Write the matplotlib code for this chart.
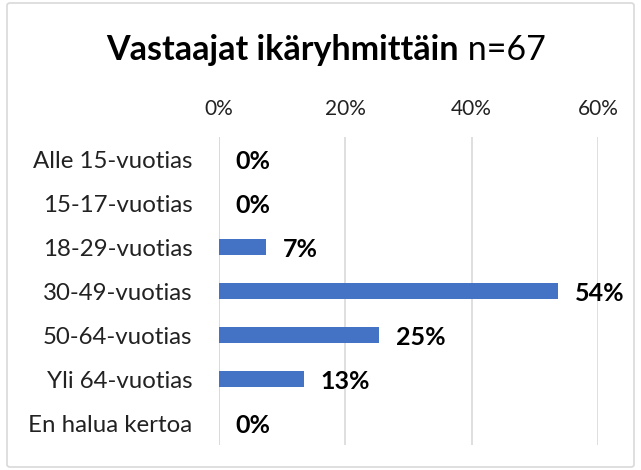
import matplotlib
matplotlib.use("Agg")
import matplotlib.pyplot as plt
from matplotlib.patches import FancyBboxPatch

categories = ["Alle 15-vuotias", "15-17-vuotias", "18-29-vuotias", "30-49-vuotias",
              "50-64-vuotias", "Yli 64-vuotias", "En halua kertoa"]
values = [0.0, 0.0, 7.46, 53.73, 25.37, 13.43, 0.0]
xticks = [0, 20, 40, 60]
xtick_labels = ["0%", "20%", "40%", "60%"]
title_bold = "Vastaajat ikäryhmittäin"
title_normal = " n=67"

plt.rcParams['font.family'] = ['Lato', 'DejaVu Sans']

fig = plt.figure(figsize=(6.41, 4.70), dpi=100)
ax = fig.add_axes([219/641, 1-445/470, (598-219)/641, (445-137)/470])

# border
fig.patches.append(FancyBboxPatch((7/641, 3/470), 627/641, 464/470, boxstyle="round,pad=0,rounding_size=0.005",
                                  transform=fig.transFigure, facecolor="none", edgecolor="#d9d9d9", linewidth=1.2))

y = list(range(len(categories)))
ax.barh(y, values, height=0.36, color="#4472C4", zorder=3)
ax.set_ylim(len(categories) - 0.5, -0.5)
ax.set_xlim(0, 60)
ax.set_xticks(xticks)
ax.set_xticklabels(xtick_labels)
ax.xaxis.tick_top()
ax.tick_params(axis='x', length=0, pad=13, labelsize=15, labelcolor="#222222")
ax.set_yticks(y)
ax.set_yticklabels(categories)
ax.tick_params(axis='y', length=0, pad=19, labelsize=17.3, labelcolor="#222222")
ax.grid(axis='x', color="#d9d9d9", linewidth=1.2, zorder=0)
for s in ax.spines.values():
    s.set_visible(False)
ax.axvline(0, color="#d9d9d9", linewidth=1.2, zorder=1)

for yi, v in zip(y, values):
    ax.annotate(f"{round(v)}%", (v, yi), xytext=(12, -2), textcoords="offset points",
                ha="left", va="center", fontsize=18, fontweight="bold", color="black")

# title in two parts
fig.canvas.draw()
r = fig.canvas.get_renderer()
t1 = fig.text(0, 1-60/470, title_bold, fontsize=24.5, fontweight="bold", ha="left", va="baseline")
t2 = fig.text(0, 1-60/470, title_normal, fontsize=24.5, ha="left", va="baseline")
w1 = t1.get_window_extent(r).width
w2 = t2.get_window_extent(r).width
total = w1 + w2
x0 = (326 - total/2) / 641
t1.set_x(x0)
t2.set_x(x0 + w1/641)

fig.savefig("out.png", dpi=100)
